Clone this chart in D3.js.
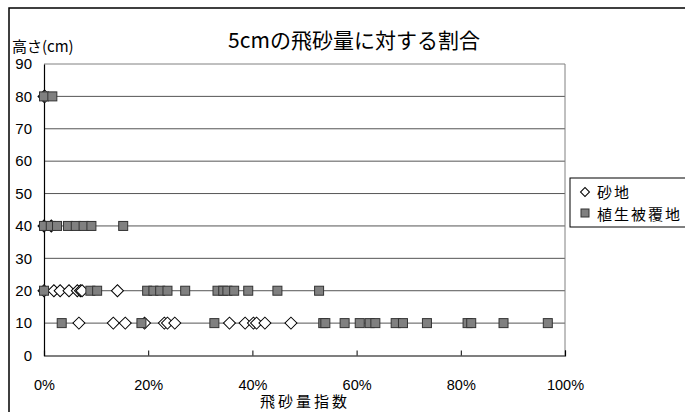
<!DOCTYPE html>
<html><head><meta charset="utf-8">
<script src="https://cdn.jsdelivr.net/npm/d3@7"></script>
<style>
html,body{margin:0;padding:0;background:#fff;}
svg{display:block;font-family:"Liberation Sans","Noto Sans CJK JP",sans-serif;}
</style></head>
<body>
<svg id="c" width="685" height="412"></svg>
<script>
// ---- data (percent values) ----
const chartTitle = "5cmの飛砂量に対する割合";
const yTitle = "高さ(cm)";
const xTitle = "飛砂量指数";
const seriesNames = ["砂地", "植生被覆地"];
const yTicks = [0,10,20,30,40,50,60,70,80,90];
const xTicks = [0,20,40,60,80,100];

// 砂地 (diamonds)
const sand10 = [6.7,13.3,15.6,19.3,23.1,23.7,25.1,35.6,38.6,40.2,40.8,42.4,47.4];
const sand20 = [0,1.9,3.1,4.8,6.4,7.0,7.3,14.1];
const sand40 = [0,1.4];
const sand80 = [0,0.2];
// 植生被覆地 (squares)
const veg10 = [3.4,18.7,32.7,53.6,54.0,57.7,60.6,62.5,63.6,67.5,68.9,73.5,81.3,82.0,88.2,96.7];
const veg20 = [0,8.9,10.2,19.8,21.0,22.3,23.7,27.1,33.3,34.4,35.2,36.5,39.2,44.8,52.8];
const veg40 = [0,1.3,2.5,4.6,6.1,7.6,9.1,15.2];
const veg80 = [0,1.6];

const sandPts = [[10,sand10],[20,sand20],[40,sand40],[80,sand80]].flatMap(([h,a])=>a.map(v=>({x:v,y:h})));
const vegPts  = [[10,veg10],[20,veg20],[40,veg40],[80,veg80]].flatMap(([h,a])=>a.map(v=>({x:v,y:h})));

const svg = d3.select("#c");
const L=44, R=565, T=64, B=355.5;
const x = d3.scaleLinear().domain([0,100]).range([L,R]);
const y = d3.scaleLinear().domain([0,90]).range([B,T]);
const cjk = '"Noto Sans CJK JP",sans-serif';

// outer chart border
svg.append("rect").attr("x",9).attr("y",8).attr("width",720).attr("height",440)
  .attr("fill","#fff").attr("stroke","#000").attr("stroke-width",1.5);

// gridlines
svg.append("g").selectAll("line").data(yTicks.filter(d=>d>0)).join("line")
  .attr("x1",L).attr("x2",R).attr("y1",d=>y(d)).attr("y2",d=>y(d))
  .attr("stroke",d=>d===90?"#808080":"#555").attr("stroke-width",1);
// right plot border
svg.append("line").attr("x1",R).attr("x2",R).attr("y1",T).attr("y2",B)
  .attr("stroke","#808080").attr("stroke-width",1);

// axes
const xAxis = d3.axisBottom(x).tickValues(xTicks).tickFormat(d=>d+"%").tickSize(-5).tickPadding(24);
const gx = svg.append("g").attr("transform",`translate(0,${B})`).call(xAxis);
gx.select(".domain").attr("stroke","#000").attr("stroke-width",1.2);
gx.selectAll(".tick line").attr("stroke","#000");
gx.selectAll("text").attr("font-size",14.5).attr("fill","#000").attr("font-family","Liberation Sans, sans-serif");

const yAxis = d3.axisLeft(y).tickValues(yTicks).tickSize(0).tickPadding(12);
const gy = svg.append("g").attr("transform",`translate(${L},0)`).call(yAxis);
gy.select(".domain").attr("stroke","#000").attr("stroke-width",1.2);
gy.selectAll("text").attr("font-size",15).attr("fill","#000").attr("font-family","Liberation Sans, sans-serif");

// markers: diamonds (砂地)
const dia = d3.symbol().type(d3.symbolSquare).size(72);
svg.append("g").selectAll("path").data(sandPts).join("path")
  .attr("d",dia)
  .attr("transform",d=>`translate(${x(d.x)},${y(d.y)}) rotate(45)`)
  .attr("fill","#fff").attr("stroke","#000").attr("stroke-width",1);
// squares (植生被覆地)
svg.append("g").selectAll("rect").data(vegPts).join("rect")
  .attr("x",d=>x(d.x)-4.5).attr("y",d=>y(d.y)-4.5).attr("width",9).attr("height",9)
  .attr("fill","#808080").attr("stroke","#333").attr("stroke-width",1);

// titles
svg.append("text").attr("x",354).attr("y",48).attr("text-anchor","middle")
  .attr("font-size",21).attr("font-family",cjk).text(chartTitle);
svg.append("text").attr("x",12).attr("y",52).attr("font-size",15).attr("font-family",cjk).text(yTitle);
svg.append("text").attr("x",305).attr("y",407).attr("text-anchor","middle")
  .attr("font-size",15).attr("letter-spacing",3).attr("font-family",cjk).text(xTitle);

// legend
const lg = svg.append("g");
lg.append("rect").attr("x",570).attr("y",178).attr("width",140).attr("height",49)
  .attr("fill","#fff").attr("stroke","#000").attr("stroke-width",1);
lg.append("path").attr("d",d3.symbol().type(d3.symbolSquare).size(40))
  .attr("transform","translate(585,192) rotate(45)")
  .attr("fill","#fff").attr("stroke","#000");
lg.append("rect").attr("x",581).attr("y",209).attr("width",8).attr("height",8)
  .attr("fill","#808080").attr("stroke","#333");
lg.selectAll("text").data(seriesNames).join("text")
  .attr("x",597).attr("y",(d,i)=>198+i*22).attr("font-size",15)
  .attr("letter-spacing",2).attr("font-family",cjk).text(d=>d);
</script>
</body></html>
